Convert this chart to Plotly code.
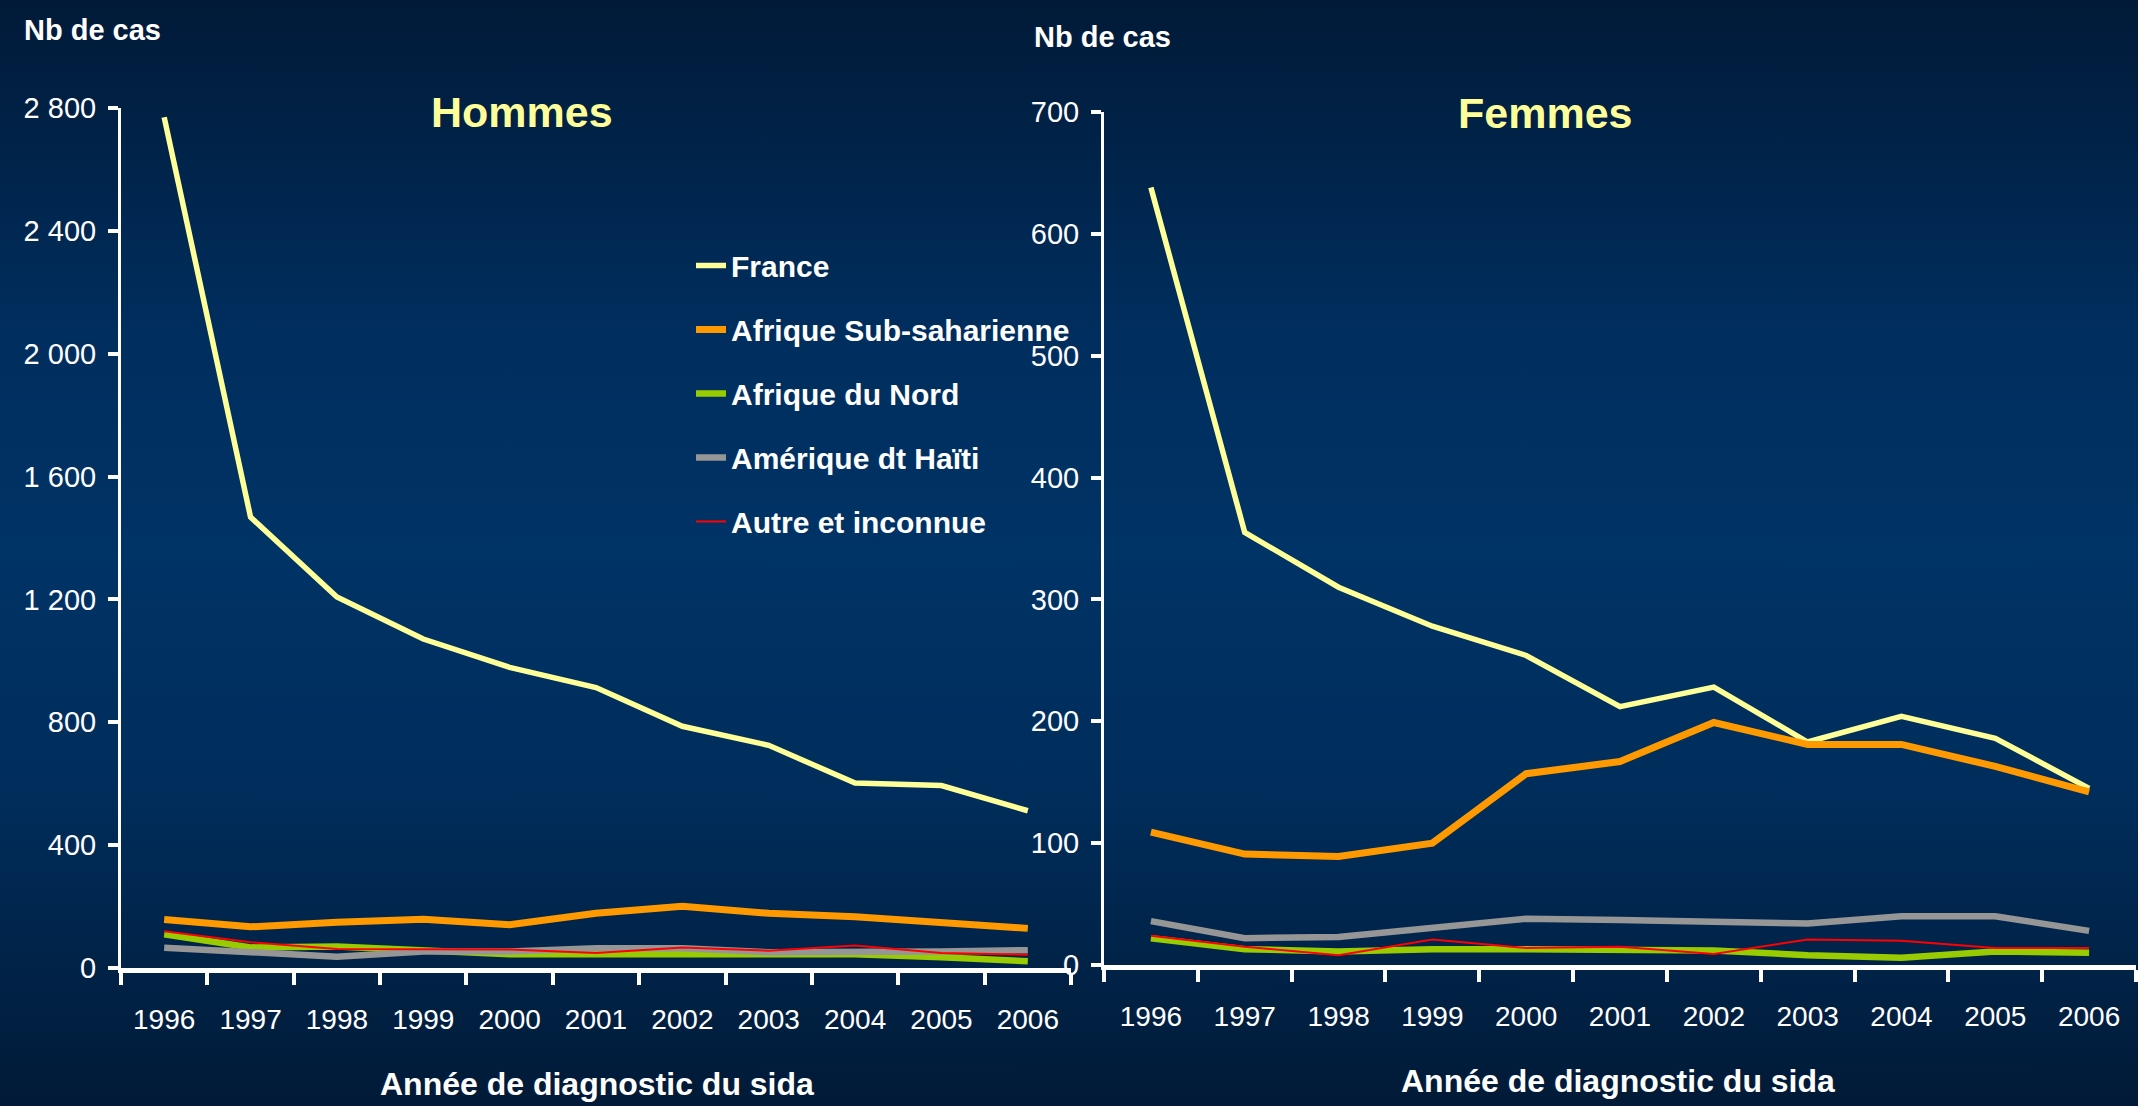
import base64
import plotly.graph_objects as go

W, H = 2138, 1106

# ---- data -------------------------------------------------------------
years = ["1996", "1997", "1998", "1999", "2000", "2001",
         "2002", "2003", "2004", "2005", "2006"]

series_names = ["France", "Afrique Sub-saharienne", "Afrique du Nord",
                "Amérique dt Haïti", "Autre et inconnue"]

hommes_france = [2770, 1468, 1208, 1071, 979, 913, 787, 725, 602, 594, 512]
hommes_afrique_sub = [158, 134, 149, 159, 141, 178, 201, 178, 167, 149, 129]
hommes_afrique_nord = [110, 67, 70, 60, 45, 45, 45, 43, 45, 35, 22]
hommes_amerique = [66, 49, 37, 54, 54, 64, 64, 51, 51, 54, 58]
hommes_autre = [120, 84, 62, 62, 60, 49, 67, 56, 73, 49, 43]

femmes_france = [638, 355, 310, 278, 254, 212, 228, 183, 204, 186, 145]
femmes_afrique_sub = [109, 91, 89, 100, 157, 167, 199, 181, 181, 163, 142]
femmes_afrique_nord = [22, 13, 11, 13, 13, 13, 12, 8, 6, 11, 10]
femmes_amerique = [36, 22, 23, 31, 38, 37, 36, 34, 40, 40, 28]
femmes_autre = [24, 15, 8, 21, 14, 15, 9, 21, 20, 14, 14]

# ---- styles -----------------------------------------------------------
colors = ["#FFFF99", "#FF9900", "#99CC00", "#969696", "#FF0000"]
widths = [5.5, 7, 6.5, 6.5, 2]

FONT = "Liberation Sans, Arial, sans-serif"
WHITE = "#FFFFFF"
TITLE_YELLOW = "#FFFF99"


def px_x(x):
    return x / W


def px_y(y):
    return 1 - y / H


fig = go.Figure()

hommes = [hommes_france, hommes_afrique_sub, hommes_afrique_nord,
          hommes_amerique, hommes_autre]
femmes = [femmes_france, femmes_afrique_sub, femmes_afrique_nord,
          femmes_amerique, femmes_autre]

for i, (name, vals) in enumerate(zip(series_names, hommes)):
    fig.add_trace(go.Scatter(
        x=years, y=vals, name=name, mode="lines",
        line=dict(color=colors[i], width=widths[i]),
        legendgroup=name, showlegend=True,
        xaxis="x", yaxis="y",
    ))

for i, (name, vals) in enumerate(zip(series_names, femmes)):
    fig.add_trace(go.Scatter(
        x=years, y=vals, name=name, mode="lines",
        line=dict(color=colors[i], width=widths[i]),
        legendgroup=name, showlegend=False,
        xaxis="x2", yaxis="y2",
    ))

# ---- axes -------------------------------------------------------------
common_x = dict(
    type="category", categoryorder="array", categoryarray=years,
    range=[-0.5, 10.5], tickson="boundaries",
    showline=True, linecolor=WHITE, linewidth=5,
    ticks="outside", ticklen=12, tickwidth=3.5, tickcolor=WHITE,
    tickfont=dict(family=FONT, size=28, color=WHITE),
    ticklabelstandoff=22,
    showgrid=False, zeroline=False, fixedrange=True, automargin=False,
)
common_y = dict(
    showline=True, linecolor=WHITE, linewidth=3,
    ticks="outside", ticklen=10, tickwidth=4, tickcolor=WHITE,
    tickfont=dict(family=FONT, size=29, color=WHITE),
    tickformat=",d", ticklabelstandoff=6,
    showgrid=False, zeroline=False, fixedrange=True, automargin=False,
)

left_dom_x = [px_x(121), px_x(1071)]
right_dom_x = [px_x(1104), px_x(2136)]
left_dom_y = [px_y(968), px_y(108)]
right_dom_y = [px_y(965), px_y(112)]

fig.update_layout(
    xaxis=dict(common_x, domain=left_dom_x, anchor="y"),
    yaxis=dict(common_y, domain=left_dom_y, anchor="x",
               range=[0, 2800], tick0=0, dtick=400),
    xaxis2=dict(common_x, domain=right_dom_x, anchor="y2"),
    yaxis2=dict(common_y, domain=right_dom_y, anchor="x2",
                range=[0, 700], tick0=0, dtick=100),
)

# ---- background gradient ---------------------------------------------
svg = (
    '<svg xmlns="http://www.w3.org/2000/svg" width="2138" height="1106" '
    'viewBox="0 0 2138 1106" preserveAspectRatio="none">'
    '<defs><linearGradient id="bg" x1="0" y1="0" x2="0" y2="1">'
    '<stop offset="0" stop-color="#011a38"/>'
    '<stop offset="0.30" stop-color="#002e5e"/>'
    '<stop offset="0.50" stop-color="#003366"/>'
    '<stop offset="0.72" stop-color="#002d5b"/>'
    '<stop offset="1" stop-color="#011a37"/>'
    '</linearGradient></defs>'
    '<rect x="0" y="0" width="2138" height="1106" fill="url(#bg)"/></svg>'
)
bg_src = "data:image/svg+xml;base64," + base64.b64encode(svg.encode()).decode()

fig.add_layout_image(dict(
    source=bg_src, xref="paper", yref="paper", x=0, y=1,
    sizex=1, sizey=1, xanchor="left", yanchor="top",
    sizing="stretch", layer="below",
))

# ---- text -------------------------------------------------------------
def label(text, x, y, size, color=WHITE, xanchor="center"):
    fig.add_annotation(
        text=text, x=px_x(x), y=px_y(y), xref="paper", yref="paper",
        xanchor=xanchor, yanchor="middle", showarrow=False,
        font=dict(family=FONT, size=size, color=color, weight="bold"),
    )


label("Nb de cas", 22, 30, 29, xanchor="left")
label("Nb de cas", 1032, 37, 29, xanchor="left")
label("Hommes", 522, 112, 43, color=TITLE_YELLOW)
label("Femmes", 1545, 113, 43, color=TITLE_YELLOW)
label("Année de diagnostic du sida", 597, 1084, 32)
label("Année de diagnostic du sida", 1618, 1081, 32)

fig.update_layout(
    width=W, height=H,
    margin=dict(l=0, r=0, t=0, b=0, pad=0, autoexpand=False),
    paper_bgcolor="#011a38",
    plot_bgcolor="rgba(0,0,0,0)",
    separators=", ",
    showlegend=True,
    legend=dict(
        x=px_x(691), y=px_y(239.5), xanchor="left", yanchor="top",
        bgcolor="rgba(0,0,0,0)", borderwidth=0,
        font=dict(family=FONT, size=30, color=WHITE, weight="bold"),
        tracegroupgap=22, itemclick=False, itemdoubleclick=False,
    ),
)

fig.write_html("out.html")
